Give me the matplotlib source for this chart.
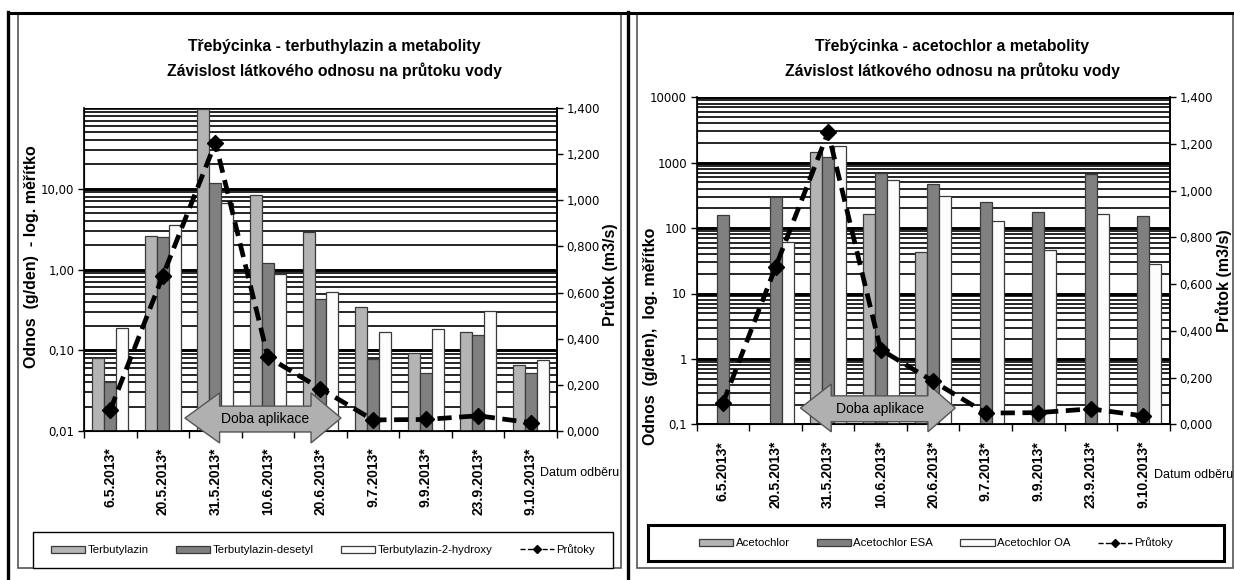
import numpy as np
import matplotlib
matplotlib.use("Agg")
import matplotlib.pyplot as plt
from matplotlib.ticker import LogLocator, FixedLocator, NullFormatter, FuncFormatter
from matplotlib.lines import Line2D
from matplotlib.patches import Polygon, Rectangle
from matplotlib.transforms import blended_transform_factory

NARROW = ['Liberation Sans', 'DejaVu Sans']
BOLD = ['Liberation Sans', 'DejaVu Sans']

dates = ['6.5.2013*', '20.5.2013*', '31.5.2013*', '10.6.2013*', '20.6.2013*',
         '9.7.2013*', '9.9.2013*', '23.9.2013*', '9.10.2013*']

# flow (m3/s), same for both charts
prutoky = [0.091, 0.673, 1.25, 0.32, 0.184, 0.048, 0.050, 0.066, 0.036]

# terbutylazin chart (g/den)
terbutylazin = [0.080, 2.6, 98, 8.4, 2.9, 0.34, 0.092, 0.17, 0.065]
terb_desetyl = [0.040, 2.5, 11.7, 1.21, 0.43, 0.077, 0.053, 0.156, 0.053]
terb_hydroxy = [0.19, 3.6, 6.6, 0.87, 0.52, 0.17, 0.185, 0.31, 0.075]

# acetochlor chart (g/den)
acetochlor = [np.nan, np.nan, 1470, 163, 42.6, np.nan, np.nan, np.nan, np.nan]
acet_esa = [158, 302, 1222, 697, 472, 251, 175, 665, 151]
acet_oa = [np.nan, 61, 1800, 538, 306, 128, 47, 163, 28]

colors = ['#b4b4b4', '#808080', '#fcfcfc']

W, H = 1234, 580
fig = plt.figure(figsize=(W / 100, H / 100), dpi=100)


def px(x0, y0, x1, y1):
    return [x0 / W, 1 - y1 / H, (x1 - x0) / W, (y1 - y0) / H]


def fmt_comma(nd):
    return FuncFormatter(lambda v, p: f"{v:.{nd}f}".replace('.', ','))


def panel(rect, series, names, ylim, ylabels, ylab, ylab_pos, rlab_pos,
          title, tx, arrow, legend_box, legend_lw, datum_xy):
    ax = fig.add_axes(px(*rect))
    x = np.arange(len(dates))
    bw = 0.228
    for i, (vals, c) in enumerate(zip(series, colors)):
        ax.bar(x + (i - 1) * bw, vals, bw, color=c, edgecolor='#3a3a3a',
               linewidth=0.9, label=names[i], zorder=2)
    ax.set_yscale('log')
    ax.set_ylim(*ylim)
    ax.set_xlim(-0.5, len(dates) - 0.5)
    ax.yaxis.set_major_locator(FixedLocator(list(ylabels.keys())))
    ax.yaxis.set_major_formatter(FuncFormatter(lambda v, p: ylabels.get(v, '')))
    ax.yaxis.set_minor_locator(LogLocator(subs=np.arange(2, 10), numticks=20))
    ax.yaxis.set_minor_formatter(NullFormatter())
    ax.grid(True, which='major', axis='y', color='black', lw=1.9, zorder=0)
    ax.grid(True, which='minor', axis='y', color='black', lw=1.2, zorder=0)
    ax.set_axisbelow(True)
    for v in [10 ** k for k in range(int(np.log10(ylim[0])), int(np.log10(ylim[1])) + 1)]:
        ax.axhline(v, color='black', lw=1.9, zorder=0.5)
    ax.tick_params(axis='y', which='major', length=4, width=1, labelsize=8.5, pad=3)
    ax.tick_params(axis='y', which='minor', length=0)
    ax.set_xticks(np.arange(-0.5, len(dates) + 0.5, 1))
    ax.set_xticklabels([])
    ax.set_xticks(x, minor=True)
    ax.set_xticklabels(dates, minor=True, rotation=90, fontsize=10,
                       fontweight='bold', family=BOLD)
    ax.tick_params(axis='x', which='major', length=5, width=1)
    ax.tick_params(axis='x', which='minor', length=0, pad=12)
    ax.spines['top'].set_visible(False)
    for s in ['left', 'bottom', 'right']:
        ax.spines[s].set_color('black')
        ax.spines[s].set_linewidth(1.2)
    ax.set_ylabel(ylab, fontsize=11.5, fontweight='bold', family=BOLD)
    ax.yaxis.set_label_coords(*ylab_pos)

    ax2 = ax.twinx()
    ax2.set_ylim(0, 1.4)
    ax2.set_yticks(np.arange(0, 1.401, 0.2))
    ax2.yaxis.set_major_formatter(fmt_comma(3))
    ax2.tick_params(axis='y', length=4, width=1, labelsize=8.5, pad=3)
    ax2.spines['top'].set_visible(False)
    ax2.spines['right'].set_linewidth(1.2)
    ax2.set_ylabel('Průtok (m3/s)', fontsize=11.5, fontweight='bold', family=BOLD)
    ax2.yaxis.set_label_coords(*rlab_pos)
    ax2.plot(x, prutoky, color='black', ls=(0, (3.0, 1.6)), lw=3.4,
             marker='D', ms=8, zorder=4, label='Průtoky')

    # application period arrow
    tr = blended_transform_factory(ax2.transData, ax2.transAxes)
    lt, lb, rb, rt, yt, yb, st, sb, ym = arrow
    poly = Polygon([(lt, ym), (lb, yt), (lb, st), (rb, st), (rb, yt), (rt, ym),
                    (rb, yb), (rb, sb), (lb, sb), (lb, yb)], closed=True,
                   transform=tr, facecolor='#b0b0b0', edgecolor='#555555',
                   lw=1.0, zorder=3, clip_on=False)
    ax2.add_patch(poly)
    ax2.text((lb + rb) / 2, (st + sb) / 2, 'Doba aplikace', transform=tr,
             ha='center', va='center', fontsize=10, family=NARROW, zorder=5)

    fig.text(tx / W, 1 - 46.5 / H, title[0], ha='center', va='center',
             fontsize=11.3, fontweight='bold', family=NARROW)
    fig.text(tx / W, 1 - 71 / H, title[1], ha='center', va='center',
             fontsize=11.3, fontweight='bold', family=NARROW)
    fig.text(datum_xy[0] / W, 1 - datum_xy[1] / H, 'Datum odběru', ha='left',
             va='center', fontsize=9, family=NARROW)

    handles = ax.get_legend_handles_labels()[0]
    lh = Line2D([], [], color='black', ls='--', lw=1, marker='D', ms=4)
    bx0, by0, bx1, by1 = legend_box
    fig.patches.append(Rectangle((bx0 / W, 1 - by1 / H), (bx1 - bx0) / W,
                                 (by1 - by0) / H, transform=fig.transFigure,
                                 facecolor='white', edgecolor='black',
                                 lw=legend_lw, zorder=1))
    fig.legend(handles + [lh], names + ['Průtoky'], ncol=4,
               loc='center', bbox_to_anchor=((bx0 + bx1) / 2 / W,
                                             1 - (by0 + by1) / 2 / H),
               frameon=False, handlelength=3.0, handleheight=0.6,
               handletextpad=0.2, columnspacing=2.4,
               prop={'family': NARROW, 'size': 8.2})
    return ax, ax2


def fline(xs, ys, lw, color='black'):
    fig.add_artist(Line2D([v / W for v in xs], [1 - v / H for v in ys],
                          transform=fig.transFigure, color=color, lw=lw))


fig.patches.append(Rectangle((18 / W, 1 - 568 / H), (621 - 18) / W, (568 - 14) / H,
                             transform=fig.transFigure, facecolor='none',
                             edgecolor='#555555', lw=1.2))
fig.patches.append(Rectangle((637 / W, 1 - 568 / H), (1232.5 - 637) / W, (568 - 14) / H,
                             transform=fig.transFigure, facecolor='none',
                             edgecolor='#555555', lw=1.2))
fline([8, 1234], [12.5, 12.5], 2.2)
fline([8.3, 8.3], [12, 580], 2.4)
fline([628.3, 628.3], [12, 580], 2.4)

panel((84, 108, 557, 431), [terbutylazin, terb_desetyl, terb_hydroxy],
      ['Terbutylazin', 'Terbutylazin-desetyl', 'Terbutylazin-2-hydroxy'],
      (0.01, 100), {0.01: '0,01', 0.1: '0,10', 1: '1,00', 10: '10,00'},
      'Odnos  (g/den)  - log. měřítko', (-0.096, 0.54), (1.093, 0.483),
      ['Třebýcinka - terbuthylazin a metabolity',
       'Závislost látkového odnosu na průtoku vody'], 334,
      (1.42, 2.08, 3.82, 4.39, 0.118, -0.037, 0.077, -0.003, 0.040),
      (33, 532, 613, 567.5), 1.0, (540, 473))

panel((696.7, 97.3, 1169.7, 424.3), [acetochlor, acet_esa, acet_oa],
      ['Acetochlor', 'Acetochlor ESA', 'Acetochlor OA'],
      (0.1, 10000), {0.1: '0,1', 1: '1', 10: '10', 100: '100', 1000: '1000',
                     10000: '10000'},
      'Odnos  (g/den),  log. měřítko', (-0.081, 0.27), (1.097, 0.438),
      ['Třebýcinka - acetochlor a metabolity',
       'Závislost látkového odnosu na průtoku vody'], 952,
      (1.475, 2.06, 3.90, 4.42, 0.123, -0.023, 0.087, 0.008, 0.050),
      (648, 525, 1224, 561), 2.2, (1154, 475))

fig.savefig('out.png', dpi=100)
